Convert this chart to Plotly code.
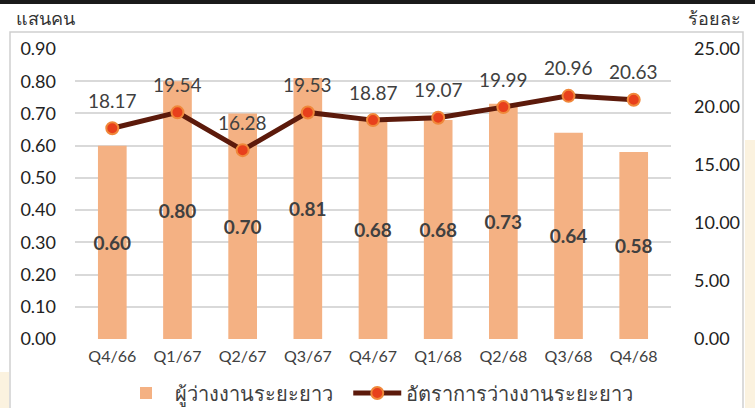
import plotly.graph_objects as go

categories = ["Q4/66", "Q1/67", "Q2/67", "Q3/67", "Q4/67", "Q1/68", "Q2/68", "Q3/68", "Q4/68"]
long_term_unemployed = [0.60, 0.80, 0.70, 0.81, 0.68, 0.68, 0.73, 0.64, 0.58]
long_term_rate = [18.17, 19.54, 16.28, 19.53, 18.87, 19.07, 19.99, 20.96, 20.63]
left_ticks = [0.0, 0.1, 0.2, 0.3, 0.4, 0.5, 0.6, 0.7, 0.8, 0.9]
right_ticks = [0, 5, 10, 15, 20, 25]

W, H = 755, 408
L, R, T, B = 75, 84, 49, 69
PW, PH = W - L - R, H - T - B

def px(x):
    return (x - L) / PW

def py(y):
    return (H - B - y) / PH

FONT = "Lato, 'Noto Sans', 'DejaVu Sans', sans-serif"
TXT = "#404040"

fig = go.Figure()
fig.add_trace(go.Bar(
    x=categories, y=long_term_unemployed, name="ผู้ว่างงานระยะยาว  ",
    marker=dict(color="#F4B183", line=dict(width=0)),
    width=0.44,
    text=[f"{v:.2f}" for v in long_term_unemployed],
    textposition="inside", insidetextanchor="middle",
    insidetextfont=dict(family=FONT, size=19, color=TXT, weight="bold"),
    textangle=0,
    cliponaxis=False,
    yaxis="y",
))
fig.add_trace(go.Scatter(
    x=categories, y=long_term_rate, name="อัตราการว่างงานระยะยาว",
    mode="lines+markers",
    line=dict(color="#5C1A0B", width=5),
    marker=dict(size=12, color="#E8401C", line=dict(color="#F0883A", width=2)),
    yaxis="y2",
))

annotations = [
    dict(x=c, y=v, xref="x", yref="y2", text=f"{v:.2f}", showarrow=False,
         yshift=28, font=dict(family=FONT, size=19, color=TXT))
    for c, v in zip(categories, long_term_rate)
]
annotations += [
    dict(text="แสนคน", xref="paper", yref="paper", x=px(14), y=py(18), xanchor="left",
         yanchor="middle", showarrow=False, font=dict(size=18, color="#333")),
    dict(text="ร้อยละ", xref="paper", yref="paper", x=px(743), y=py(18), xanchor="right",
         yanchor="middle", showarrow=False, font=dict(size=18, color="#333")),
]

fig.update_layout(
    width=W, height=H,
    margin=dict(l=L, r=R, t=T, b=B, autoexpand=False),
    paper_bgcolor="white", plot_bgcolor="white",
    font=dict(family=FONT, size=17, color=TXT),
    bargap=0.56,
    uniformtext=dict(minsize=19, mode="show"),
    showlegend=True,
    legend=dict(orientation="h", x=px(378), xanchor="center", y=py(393), yanchor="middle",
                font=dict(size=20, color=TXT), itemwidth=48, tracegroupgap=0,
                bgcolor="rgba(0,0,0,0)"),
    xaxis=dict(showgrid=False, showline=False, ticks="", tickfont=dict(size=16, color=TXT),
               ticklabelstandoff=6, automargin=False),
    yaxis=dict(range=[0, 0.9], tickvals=left_ticks, ticktext=[f"{v:.2f}" for v in left_ticks],
               showgrid=True, gridcolor="#D9D9D9", gridwidth=1.5, zeroline=False,
               showline=False, ticks="", tickfont=dict(size=18, color="#222"),
               ticklabelstandoff=18, automargin=False),
    yaxis2=dict(range=[0, 25], overlaying="y", side="right", tickvals=right_ticks,
                ticktext=[f"{v:.2f}" for v in right_ticks], showgrid=False, zeroline=False,
                showline=False, ticks="", tickfont=dict(size=18, color="#222"),
                ticklabelstandoff=22, automargin=False),
    shapes=[
        dict(type="rect", xref="paper", yref="paper", x0=px(745), x1=px(760), y0=py(140), y1=py(410),
             fillcolor="#FBF2DF", line=dict(width=0), layer="below"),
        dict(type="rect", xref="paper", yref="paper", x0=px(-5), x1=px(9), y0=py(372), y1=py(410),
             fillcolor="#FBF2DF", line=dict(width=0), layer="below"),
        dict(type="rect", xref="paper", yref="paper", x0=px(10), x1=px(743), y0=py(32), y1=py(420),
             fillcolor="rgba(0,0,0,0)", line=dict(color="#CFCFCF", width=1.5), layer="below"),
        dict(type="rect", xref="paper", yref="paper", x0=px(-5), x1=px(760), y0=py(4), y1=py(-5),
             fillcolor="#1A1A1A", line=dict(width=0), layer="above"),
    ],
    annotations=annotations,
)

fig.write_html("out.html", config={"displayModeBar": False},
               post_script="document.body.style.margin='0';document.body.style.overflow='hidden';")
